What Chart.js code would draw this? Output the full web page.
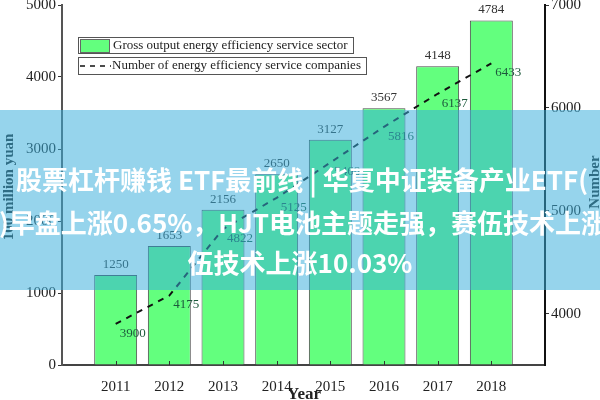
<!DOCTYPE html>
<html>
<head>
<meta charset="utf-8">
<script src="https://cdn.jsdelivr.net/npm/chart.js@4.4.1/dist/chart.umd.min.js"></script>
<style>
  html, body { margin: 0; padding: 0; background: #fff; }
  #wrap { position: relative; width: 600px; height: 400px; overflow: hidden; }
  #band {
    position: absolute; left: 0; top: 110px; width: 600px; height: 180px;
    background: rgba(57, 174, 219, 0.53);
  }
  .cap {
    position: absolute; white-space: nowrap; color: #fff;
    font-family: "Noto Sans CJK SC", sans-serif; font-weight: bold; font-size: 26px;
    line-height: 30px;
  }
</style>
</head>
<body>
<div id="wrap">
  <canvas id="chart" width="600" height="400"></canvas>
  <div id="band"></div>
  <div class="cap" id="cap1" style="left:16px; top:54px;"></div>
  <div class="cap" id="cap2" style="left:-1px; top:97px;"></div>
  <div class="cap" id="cap3" style="left:0; width:600px; text-align:center; top:137px;"></div>
</div>
<script>
// datos del gráfico
const years = ['', '2011', '2012', '2013', '2014', '2015', '2016', '2017', '2018', ''];
const grossOutput = [null, 1250, 1653, 2156, 2650, 3127, 3567, 4148, 4784, null];
const companies = [null, 3900, 4175, 4822, 5125, 5468, 5816, 6137, 6433, null];
const leftTicks = [0, 1000, 2000, 3000, 4000, 5000];
const rightTicks = [4000, 5000, 6000, 7000];
const legendLabels = ['Gross output energy efficiency service sector', 'Number of energy efficiency service companies'];
const captions = [
  '股票杠杆赚钱 ETF最前线 | 华夏中证装备产业ETF(',
  ')早盘上涨0.65%，HJT电池主题走强，赛伍技术上涨',
  '伍技术上涨10.03%'
];

// el texto de encima va en divs
const band = document.getElementById('band');
['cap1', 'cap2', 'cap3'].forEach((id, i) => {
  const el = document.getElementById(id);
  el.textContent = captions[i];
  band.appendChild(el);
});

const serif = '"Liberation Serif", "Times New Roman", serif';

// etiquetas, leyenda y títulos
const extras = {
  id: 'extras',
  afterDatasetsDraw(chart) {
    const ctx = chart.ctx;
    const x = chart.scales.x;
    const area = chart.chartArea;
    ctx.save();
    // marcas del eje x hacia dentro
    ctx.strokeStyle = '#333';
    ctx.lineWidth = 1;
    for (let i = 1; i < years.length - 1; i++) {
      const px = Math.round(x.getPixelForValue(i)) + 0.5;
      ctx.beginPath();
      ctx.moveTo(px, area.bottom);
      ctx.lineTo(px, area.bottom - 4);
      ctx.stroke();
    }
    // valores de las barras
    ctx.font = '13px ' + serif;
    ctx.fillStyle = '#333';
    ctx.textAlign = 'center';
    ctx.textBaseline = 'bottom';
    chart.getDatasetMeta(0).data.forEach((bar, i) => {
      if (grossOutput[i] == null) return;
      ctx.fillText(String(grossOutput[i]), bar.x, bar.y - 4);
    });
    // valores de la línea
    ctx.fillStyle = '#1d5a3c';
    ctx.textAlign = 'left';
    ctx.textBaseline = 'top';
    chart.getDatasetMeta(1).data.forEach((pt, i) => {
      if (companies[i] == null) return;
      ctx.fillText(String(companies[i]), pt.x + 4, pt.y + 3);
    });
    ctx.restore();
  },
  afterDraw(chart) {
    const ctx = chart.ctx;
    ctx.save();
    // leyenda
    ctx.lineWidth = 1;
    ctx.strokeStyle = '#555';
    ctx.fillStyle = '#fff';
    ctx.fillRect(78, 37, 275, 16);
    ctx.strokeRect(78.5, 37.5, 275, 16);
    ctx.fillRect(78, 57, 288, 17);
    ctx.strokeRect(78.5, 57.5, 288, 17);
    ctx.fillStyle = '#63ff7e';
    ctx.fillRect(80, 39, 29, 13);
    ctx.strokeStyle = '#666';
    ctx.strokeRect(80.5, 39.5, 29, 13);
    ctx.strokeStyle = '#111';
    ctx.lineWidth = 1.5;
    ctx.setLineDash([5, 5]);
    ctx.beginPath();
    ctx.moveTo(80, 66);
    ctx.lineTo(111, 66);
    ctx.stroke();
    ctx.setLineDash([]);
    ctx.fillStyle = '#222';
    ctx.font = '13px ' + serif;
    ctx.textAlign = 'left';
    ctx.textBaseline = 'middle';
    ctx.fillText(legendLabels[0], 113, 46);
    ctx.fillText(legendLabels[1], 112, 66);
    // títulos de los ejes
    ctx.font = 'bold 17px ' + serif;
    ctx.fillStyle = '#222';
    ctx.textAlign = 'center';
    ctx.textBaseline = 'top';
    ctx.fillText('Year', 304, 386);
    ctx.font = 'bold 15px ' + serif;
    ctx.textBaseline = 'middle';
    ctx.translate(9, 187);
    ctx.rotate(-Math.PI / 2);
    ctx.fillText('100 million yuan', 0, 0);
    ctx.restore();
    ctx.save();
    ctx.font = 'bold 15px ' + serif;
    ctx.fillStyle = '#222';
    ctx.textAlign = 'center';
    ctx.textBaseline = 'middle';
    ctx.translate(595, 182);
    ctx.rotate(-Math.PI / 2);
    ctx.fillText('Number', 0, 0);
    ctx.restore();
  }
};

function fixWidth(w) {
  return function (scale) {
    scale.width = w;
    scale.paddingTop = 0;
    scale.paddingBottom = 0;
  };
}

const plainTick = v => String(v);

new Chart(document.getElementById('chart').getContext('2d'), {
  data: {
    labels: years,
    datasets: [
      {
        type: 'bar',
        data: grossOutput,
        backgroundColor: '#63ff7e',
        borderColor: '#4a4a4a',
        borderWidth: 1,
        barPercentage: 0.8,
        categoryPercentage: 1.0,
        yAxisID: 'y',
        order: 2
      },
      {
        type: 'line',
        data: companies,
        borderColor: '#111',
        borderWidth: 2,
        borderDash: [6, 6],
        pointRadius: 0,
        tension: 0,
        yAxisID: 'y1',
        order: 1
      }
    ]
  },
  options: {
    responsive: false,
    animation: false,
    layout: { padding: { top: 5, bottom: 0, left: 0, right: 0 } },
    plugins: { legend: { display: false }, tooltip: { enabled: false } },
    scales: {
      x: {
        offset: false,
        grid: { display: false },
        border: { display: true, color: '#444', width: 2 },
        ticks: { font: { family: serif, size: 15 }, color: '#222', padding: 5, maxRotation: 0, autoSkip: false },
        afterFit(scale) {
          scale.height = 35;
          scale.paddingLeft = 0;
          scale.paddingRight = 0;
        }
      },
      y: {
        position: 'left',
        min: 0,
        max: 5000,
        afterBuildTicks(scale) { scale.ticks = leftTicks.map(v => ({ value: v })); },
        grid: { drawOnChartArea: false, tickLength: 4, color: '#333' },
        border: { display: true, color: '#555', width: 2 },
        ticks: { font: { family: serif, size: 15 }, color: '#222', padding: 2, callback: plainTick },
        afterFit: fixWidth(62)
      },
      y1: {
        position: 'right',
        min: 3500,
        max: 7000,
        afterBuildTicks(scale) { scale.ticks = rightTicks.map(v => ({ value: v })); },
        grid: { drawOnChartArea: false, tickLength: 4, color: '#333' },
        border: { display: true, color: '#111', width: 2 },
        ticks: { font: { family: serif, size: 15 }, color: '#222', padding: 2, callback: plainTick },
        afterFit: fixWidth(55)
      }
    }
  },
  plugins: [extras]
});
</script>
</body>
</html>
